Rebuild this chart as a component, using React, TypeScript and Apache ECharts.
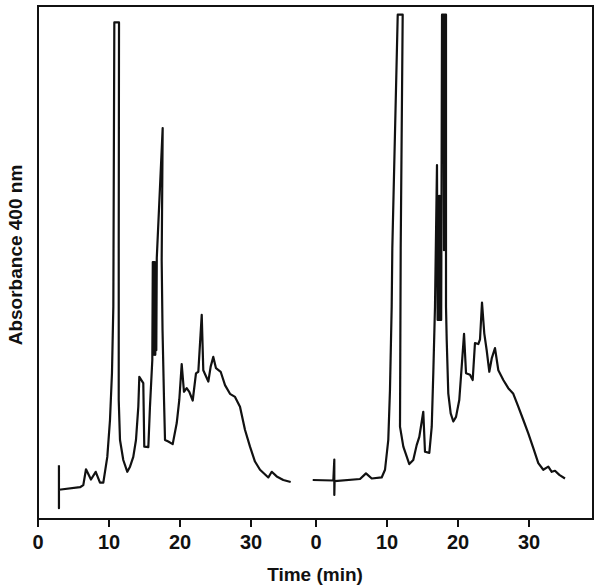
import React, { useEffect, useRef } from "react";
import * as echarts from "echarts";

// Time (min) / absorbance (arbitrary units, 0-100 of full scale)
const leftTime = [2.95, 2.95, 2.95, 5.92, 6.38, 6.76, 7.46, 8.13, 8.73, 9.2, 9.76, 10.14, 10.42, 10.61, 10.75, 11.41, 11.37, 11.37, 11.55, 12.01, 12.58, 12.96, 13.42, 13.8, 14.13, 14.27, 14.83, 14.97, 15.54, 15.77, 16.1, 16.17, 16.24, 16.31, 16.38, 16.45, 16.52, 16.59, 16.66, 16.73, 17.56, 17.42, 17.54, 17.75, 17.89, 18.35, 18.97, 19.54, 19.9, 20.24, 20.56, 20.94, 21.31, 21.79, 22.25, 22.58, 23.06, 23.28, 23.99, 24.32, 24.69, 25.07, 25.73, 26.34, 27.04, 27.75, 28.45, 29.15, 29.86, 30.56, 31.27, 32.44, 32.92, 33.62, 34.55, 35.59];
const leftAbs = [10.5, 2.1, 5.7, 6.2, 6.6, 9.7, 7.7, 9.2, 7.1, 7.1, 12.1, 19.3, 28.5, 41.4, 96.8, 96.8, 52.8, 23.2, 15.4, 11.5, 9.2, 10.2, 12.1, 15.4, 21.9, 27.7, 26.5, 14.1, 14.0, 21.9, 31.0, 50.1, 32.0, 50.1, 32.0, 50.1, 32.0, 50.1, 32.9, 50.9, 76.2, 50.5, 36.8, 23.2, 15.4, 15.1, 14.6, 18.7, 23.2, 30.2, 24.8, 25.5, 24.8, 23.1, 28.4, 28.7, 39.8, 29.0, 26.8, 29.7, 31.6, 29.4, 28.7, 26.1, 24.4, 23.8, 21.9, 17.4, 14.1, 11.2, 9.6, 8.1, 9.2, 8.3, 7.6, 7.2];

const rightTime = [-0.46, 2.44, 2.58, 2.58, 2.62, 6.2, 7.04, 7.85, 9.25, 9.72, 10.18, 10.42, 10.66, 10.75, 11.51, 12.21, 11.93, 11.83, 12.3, 13.14, 13.7, 14.18, 14.55, 15.11, 15.35, 15.96, 16.3, 16.52, 16.76, 17.04, 17.13, 17.21, 17.3, 17.38, 17.46, 17.55, 17.63, 17.75, 17.96, 18.03, 18.1, 18.31, 18.31, 18.41, 18.63, 18.97, 19.34, 19.72, 20.18, 20.52, 20.85, 21.13, 21.69, 22.07, 22.39, 22.86, 23.1, 23.38, 23.7, 24.04, 24.41, 24.75, 25.21, 25.68, 26.38, 27.08, 27.79, 28.49, 29.2, 29.9, 30.61, 31.31, 32.01, 32.72, 33.2, 33.66, 34.27, 35.07];
const rightAbs = [7.6, 7.5, 11.6, 4.7, 7.4, 7.8, 8.9, 7.9, 8.1, 9.6, 15.4, 25.2, 41.4, 52.8, 98.3, 98.3, 52.8, 18.0, 14.1, 10.7, 11.5, 14.4, 16.0, 20.9, 13.1, 12.9, 18.0, 28.4, 41.4, 69.0, 38.8, 63.0, 38.8, 63.0, 38.8, 63.0, 38.8, 98.3, 98.3, 52.4, 98.3, 98.3, 41.4, 34.9, 24.5, 20.6, 19.0, 19.9, 23.2, 29.7, 36.1, 28.4, 28.1, 27.1, 34.3, 34.1, 35.0, 42.2, 36.2, 32.9, 28.7, 31.3, 33.3, 29.0, 27.1, 25.5, 24.4, 21.9, 19.3, 16.7, 13.8, 10.9, 9.6, 10.2, 9.2, 9.4, 8.6, 7.9];

const tickValues = [0, 10, 20, 30];
const xTitle = "Time (min)";
const yTitle = "Absorbance 400 nm";

const FONT = "Liberation Sans";

export default function App() {
  const ref = useRef<HTMLDivElement>(null);
  useEffect(() => {
    if (!ref.current) return;
    const chart = echarts.init(ref.current, undefined, { renderer: "svg" });
    const pxPerMin = 7.1;
    const leftW = 278;
    const rightW = 293;
    const rightMin = -16 / pxPerMin;
    const axisCommon = {
      type: "value" as const,
      axisLine: { show: false },
      splitLine: { show: false },
      axisTick: {
        show: true,
        inside: false,
        length: 8,
        customValues: tickValues,
        lineStyle: { color: "#111", width: 2 },
      },
      axisLabel: {
        show: true,
        customValues: tickValues,
        margin: 13,
        color: "#111",
        fontSize: 20,
        fontWeight: "bold" as const,
        fontFamily: FONT,
      },
    };
    const yCommon = {
      type: "value" as const,
      min: 0,
      max: 100,
      show: false,
    };
    const lineStyle = { color: "#111", width: 2.2, join: "round" as const };
    chart.setOption({
      animation: false,
      backgroundColor: "#fff",
      grid: [
        { left: 38, top: 6, width: leftW, height: 513 },
        { left: 300, top: 6, width: rightW, height: 513 },
      ],
      xAxis: [
        { ...axisCommon, gridIndex: 0, min: 0, max: leftW / pxPerMin },
        { ...axisCommon, gridIndex: 1, min: rightMin, max: rightMin + rightW / pxPerMin },
      ],
      yAxis: [
        { ...yCommon, gridIndex: 0 },
        { ...yCommon, gridIndex: 1 },
      ],
      series: [
        {
          type: "line",
          xAxisIndex: 0,
          yAxisIndex: 0,
          data: leftTime.map((t, i) => [t, leftAbs[i]]),
          symbol: "none",
          lineStyle,
        },
        {
          type: "line",
          xAxisIndex: 1,
          yAxisIndex: 1,
          data: rightTime.map((t, i) => [t, rightAbs[i]]),
          symbol: "none",
          lineStyle,
        },
      ],
      graphic: [
        {
          type: "rect",
          shape: { x: 38, y: 6, width: 555, height: 513 },
          style: { fill: "none", stroke: "#111", lineWidth: 2 },
          z: 10,
        },
        {
          type: "text",
          x: 315,
          y: 574,
          style: {
            text: xTitle,
            fill: "#111",
            font: `bold 19px "${FONT}"`,
            textAlign: "center",
            textVerticalAlign: "middle",
          },
        },
        {
          type: "text",
          x: 15,
          y: 255,
          rotation: Math.PI / 2,
          style: {
            text: yTitle,
            fill: "#111",
            font: `bold 19px "${FONT}"`,
            textAlign: "center",
            textVerticalAlign: "middle",
          },
        },
      ],
    });
    return () => chart.dispose();
  }, []);
  return (
    <div
      ref={ref}
      style={{ position: "absolute", left: 0, top: 0, width: 601, height: 585 }}
    />
  );
}
